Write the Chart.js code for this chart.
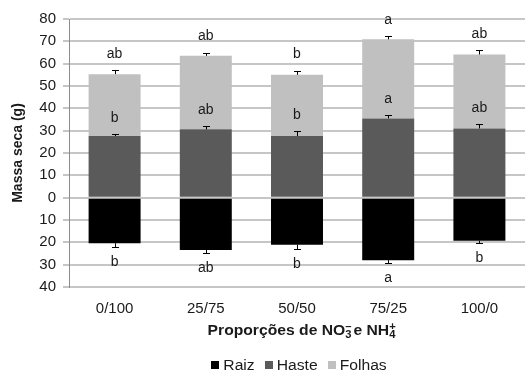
<!DOCTYPE html>
<html>
<head>
<meta charset="utf-8">
<script src="https://cdn.jsdelivr.net/npm/chart.js@4.4.1/dist/chart.umd.min.js"></script>
<style>
html,body{margin:0;padding:0;background:#fff;}
#wrap{width:525px;height:372px;}
</style>
</head>
<body>
<div id="wrap"><canvas id="c" width="525" height="372"></canvas></div>
<script>
const categories = ['0/100', '25/75', '50/50', '75/25', '100/0'];
const raiz   = [-20.4, -23.4, -21.1, -28.0, -19.3];
const haste  = [27.6, 30.6, 27.6, 35.5, 31.0];
const folhas = [27.7, 32.9, 27.4, 35.4, 33.1];
const raizErr   = [1.8, 1.5, 1.8, 1.2, 1.1];
const hasteErr  = [1.0, 1.4, 2.1, 1.5, 1.9];
const folhasErr = [1.9, 1.5, 1.9, 1.3, 2.0];
const raizLetters   = ['b', 'ab', 'b', 'a', 'b'];
const hasteLetters  = ['b', 'ab', 'b', 'a', 'ab'];
const folhasLetters = ['ab', 'ab', 'b', 'a', 'ab'];
const yTicks = [-40, -30, -20, -10, 0, 10, 20, 30, 40, 50, 60, 70, 80];

const FONT = '"Liberation Sans", Arial, sans-serif';
const TXT = '#1a1a1a';
const SX = 1.12; // horizontal stretch of the reference's text

function stretchText(ctx, t, x, y, sx) {
  ctx.save();
  ctx.translate(x, y);
  ctx.scale(sx, 1);
  ctx.fillText(t, 0, 0);
  ctx.restore();
}

const errorPlugin = {
  id: 'errors',
  afterDatasetsDraw(chart) {
    const ctx = chart.ctx;
    const y = chart.scales.y;
    const sets = [
      {idx: 0, base: i => 0, val: raiz, err: raizErr, letters: raizLetters, dir: -1},
      {idx: 1, base: i => 0, val: haste, err: hasteErr, letters: hasteLetters, dir: 1},
      {idx: 2, base: i => haste[i], val: folhas, err: folhasErr, letters: folhasLetters, dir: 1}
    ];
    ctx.save();
    ctx.strokeStyle = '#000';
    ctx.lineWidth = 1;
    ctx.fillStyle = TXT;
    ctx.font = '14px ' + FONT;
    ctx.textAlign = 'center';
    ctx.textBaseline = 'middle';
    sets.forEach(s => {
      const meta = chart.getDatasetMeta(s.idx);
      meta.data.forEach((bar, i) => {
        const end = s.base(i) + s.val[i];
        const y0 = y.getPixelForValue(end);
        const y1 = y.getPixelForValue(end + s.dir * s.err[i]);
        const x = Math.round(bar.x) + 0.5;
        const yc = Math.round(y1) + 0.5;
        ctx.beginPath();
        ctx.moveTo(x, y0);
        ctx.lineTo(x, yc);
        ctx.moveTo(x - 3.5, yc);
        ctx.lineTo(x + 3.5, yc);
        ctx.stroke();
        const ly = s.dir > 0 ? y1 - 16 : y1 + 15;
        stretchText(ctx, s.letters[i], bar.x, ly, 1.0);
      });
    });
    ctx.restore();
  }
};

const decorPlugin = {
  id: 'decor',
  afterDraw(chart) {
    const ctx = chart.ctx;
    const ca = chart.chartArea;
    const cx = (ca.left + ca.right) / 2;
    ctx.save();
    // x-axis title with sub/superscripts
    const big = 'bold 14px ' + FONT;
    const small = 'bold 10px ' + FONT;
    const parts = [
      {t: 'Proporções de NO', f: big, dy: 0},
      {t: '3', f: small, dy: 3, sup: '\u2013'},
      {t: 'e NH', f: big, dy: 0, lead: 1},
      {t: '4', f: small, dy: 3, sup: '+'}
    ];
    let total = 0;
    parts.forEach(p => { ctx.font = p.f; p.w = ctx.measureText(p.t).width * SX; total += p.w + (p.lead || 0) + (p.sup ? 1 : 0); });
    let x = cx + 5 - total / 2;
    const by = 335;
    ctx.fillStyle = TXT;
    ctx.textAlign = 'left';
    ctx.textBaseline = 'alphabetic';
    parts.forEach(p => {
      x += (p.lead || 0);
      ctx.font = p.f;
      stretchText(ctx, p.t, x, by + p.dy, SX);
      if (p.sup) stretchText(ctx, p.sup, x, by - 5, SX);
      x += p.w + (p.sup ? 1 : 0);
    });
    // legend
    ctx.font = '14px ' + FONT;
    const items = chart.data.datasets.map(d => ({label: d.label, color: d.backgroundColor, w: ctx.measureText(d.label).width * SX}));
    const box = 8, gap = 4, sep = 10;
    let lw = 0;
    items.forEach((it, i) => { lw += box + gap + it.w + (i < items.length - 1 ? sep : 0); });
    let lx = cx + 2 - lw / 2;
    const ly = 365;
    ctx.textBaseline = 'middle';
    items.forEach(it => {
      ctx.fillStyle = it.color;
      ctx.fillRect(Math.round(lx), ly - 4, box, box);
      ctx.fillStyle = TXT;
      stretchText(ctx, it.label, lx + box + gap, ly + 1, SX);
      lx += box + gap + it.w + sep;
    });
    ctx.restore();
  }
};

new Chart(document.getElementById('c'), {
  type: 'bar',
  data: {
    labels: categories,
    datasets: [
      {label: 'Raiz', data: raiz, backgroundColor: '#000000'},
      {label: 'Haste', data: haste, backgroundColor: '#5a5a5a'},
      {label: 'Folhas', data: folhas, backgroundColor: '#c0c0c0'}
    ]
  },
  options: {
    responsive: false,
    animation: false,
    devicePixelRatio: 1,
    layout: {padding: {top: 19, right: -3, bottom: 0, left: 0}},
    datasets: {bar: {barPercentage: 0.57, categoryPercentage: 1, borderWidth: 0}},
    plugins: {legend: {display: false}, tooltip: {enabled: false}},
    scales: {
      x: {
        stacked: true,
        grid: {display: false},
        border: {display: false},
        ticks: {color: TXT, font: {family: FONT, size: 15}, padding: 5},
        afterFit(s) { s.height = 85; }
      },
      y: {
        stacked: true,
        min: -40, max: 80,
        afterBuildTicks(s) { s.ticks = yTicks.map(v => ({value: v})); },
        ticks: {
          color: TXT, font: {family: FONT, size: 15}, padding: 7,
          callback: v => String(Math.abs(v))
        },
        grid: {color: '#c6c6c6', lineWidth: 2, tickLength: 6, tickColor: '#c6c6c6'},
        border: {display: true, color: '#8c8c8c', width: 1},
        title: {display: true, text: 'Massa seca (g)', color: TXT, font: {family: FONT, size: 14, weight: 'bold'}, padding: {top: 10, bottom: 0}},
        afterFit(s) { s.width = 69; }
      }
    }
  },
  plugins: [errorPlugin, decorPlugin]
});
</script>
</body>
</html>
